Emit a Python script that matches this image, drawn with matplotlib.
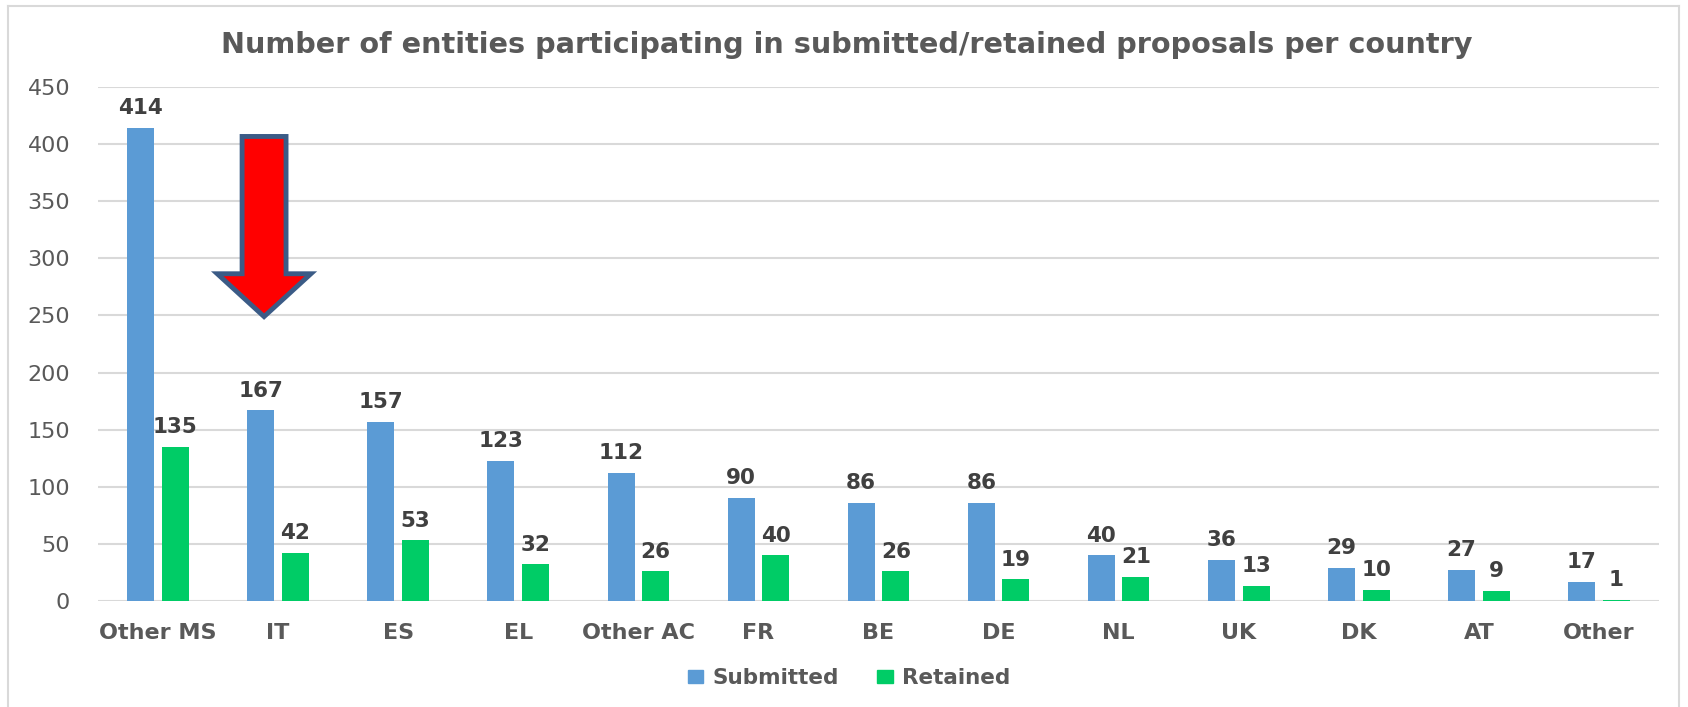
import matplotlib
matplotlib.use('Agg')
from matplotlib import pyplot as plt
from matplotlib.patches import FancyArrow, Patch
from matplotlib.lines import Line2D
import numpy as np

countries = ['Other MS', 'IT', 'ES', 'EL', 'Other AC', 'FR', 'BE', 'DE',
             'NL', 'UK', 'DK', 'AT', 'Other']
submitted = [414, 167, 157, 123, 112, 90, 86, 86, 40, 36, 29, 27, 17]
retained = [135, 42, 53, 32, 26, 40, 26, 19, 21, 13, 10, 9, 1]
yticks = [0, 50, 100, 150, 200, 250, 300, 350, 400, 450]

BLUE = '#5B9BD5'
GREEN = '#00CC66'
GREY = '#595959'
DARK = '#404040'
GRID = '#D9D9D9'

plt.rcParams['font.family'] = ['DejaVu Sans']

fig = plt.figure(figsize=(16.88, 7.07), dpi=100)
ax = fig.add_axes([98 / 1688, 1 - 601 / 707, 1561 / 1688, 514 / 707])

x = np.arange(len(countries))
w = 0.225
off = 0.144
b1 = ax.bar(x - off, submitted, w, color=BLUE, zorder=3)
b2 = ax.bar(x + off, retained, w, color=GREEN, zorder=3)

for bars in (b1, b2):
    for r in bars:
        ax.annotate(str(int(r.get_height())),
                    (r.get_x() + r.get_width() / 2, r.get_height()),
                    xytext=(0, 7), textcoords='offset points',
                    ha='center', va='bottom', fontsize=15.5,
                    fontweight='bold', color=DARK, annotation_clip=False)

ax.set_xlim(-0.5, len(countries) - 0.5)
ax.set_ylim(0, 450)
ax.set_yticks(yticks)
ax.set_xticks(x)
ax.set_xticklabels(countries, fontsize=16, fontweight='bold', color=GREY)
ax.tick_params(axis='x', length=0, pad=16)
ax.tick_params(axis='y', length=0, pad=20, labelsize=16, labelcolor=GREY)
ax.yaxis.grid(True, color=GRID, linewidth=1.5, zorder=0)
ax.set_axisbelow(True)
for s in ax.spines.values():
    s.set_visible(False)

# red arrow pointing at IT
arr = FancyArrow(0.883, 406.7, 0, -157.7, width=0.366, head_width=0.78,
                 head_length=37.5, length_includes_head=True,
                 facecolor='#FF0000', edgecolor='#3B5B86', linewidth=3.5,
                 joinstyle='miter', zorder=5, clip_on=False)
ax.add_patch(arr)

fig.text(847 / 1688, 1 - 45 / 707,
         'Number of entities participating in submitted/retained proposals per country',
         ha='center', va='center', fontsize=20.7, fontweight='bold', color=GREY)

handles = [Patch(color=BLUE, label='Submitted'), Patch(color=GREEN, label='Retained')]
leg = fig.legend(handles=handles, loc='center', bbox_to_anchor=(849 / 1688, 1 - 678 / 707),
                 ncol=2, frameon=False, handlelength=0.7, handleheight=0.6,
                 handletextpad=0.42, columnspacing=1.8,
                 prop={'size': 15.5, 'weight': 'bold'})
for t in leg.get_texts():
    t.set_color(GREY)

# outer frame
for xs, ys in [((8 / 1688, 8 / 1688), (0, 1 - 6 / 707)),
               ((8 / 1688, 1679 / 1688), (1 - 6 / 707, 1 - 6 / 707)),
               ((1679 / 1688, 1679 / 1688), (0, 1 - 6 / 707))]:
    fig.add_artist(Line2D(xs, ys, color=GRID, linewidth=1.5, transform=fig.transFigure))

fig.savefig('out.png', dpi=100, facecolor='white')
